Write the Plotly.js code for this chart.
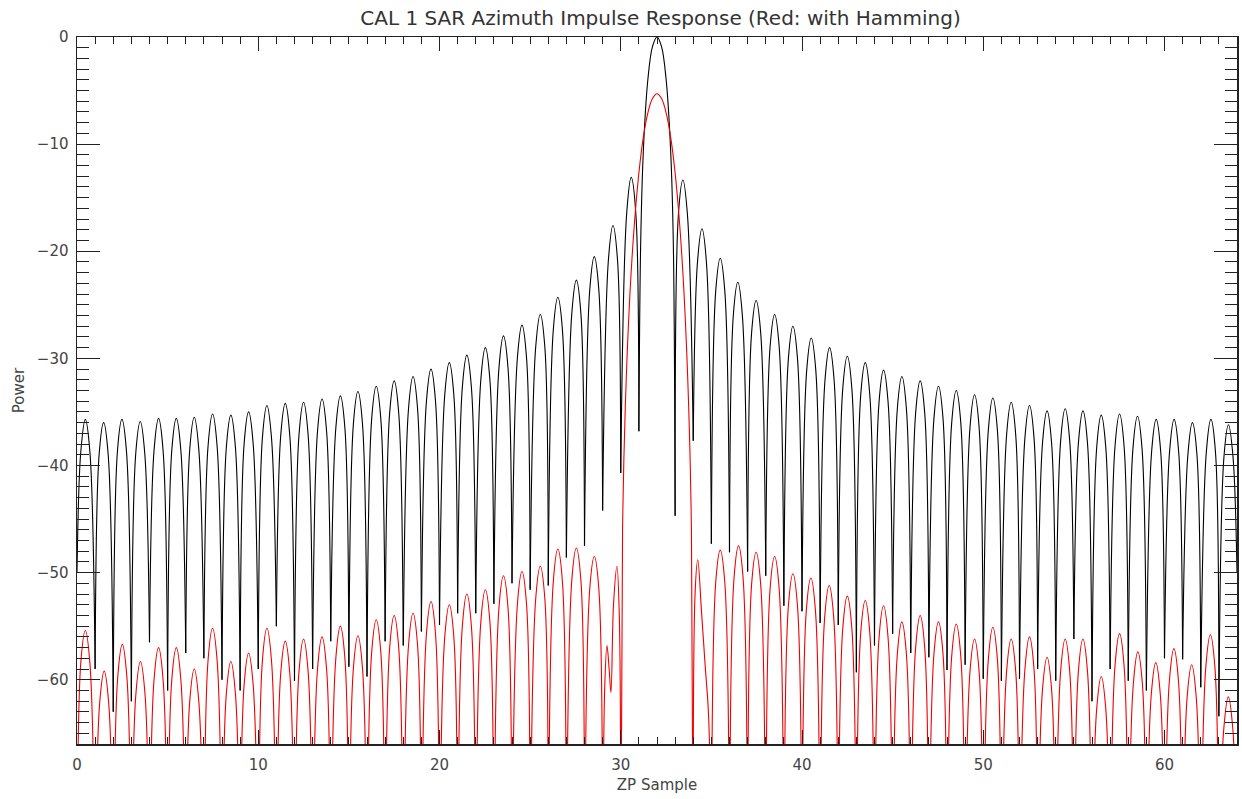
<!DOCTYPE html>
<html>
<head>
<meta charset="utf-8">
<script src="https://cdn.plot.ly/plotly-3.0.1.min.js"></script>
<style>
html,body{margin:0;padding:0;background:#fff;}
#chart{width:1242px;height:799px;}
</style>
</head>
<body>
<div id="chart"></div>
<script>
// ---------- Black curve (no weighting) ----------
// sidelobe peaks (x in ZP samples, power in dB)
const blackPeakX = [0.46,1.47,2.48,3.49,4.50,5.48,6.47,7.48,8.49,9.47,10.48,11.49,12.50,13.52,14.53,15.50,16.51,17.50,18.54,19.53,20.54,21.51,22.53,23.53,24.55,25.56,26.53,27.55,28.54,29.57,30.58,
                    33.43,34.48,35.49,36.46,37.47,38.49,39.50,40.51,41.52,42.50,43.49,44.50,45.51,46.52,47.53,48.51,49.52,50.53,51.54,52.55,53.52,54.52,55.50,56.51,57.52,58.51,59.54,60.53,61.54,62.56,63.53];
const blackPeakY = [-35.7,-36.0,-35.7,-35.9,-35.6,-35.6,-35.5,-35.2,-35.3,-35.0,-34.4,-34.2,-34.1,-33.8,-33.5,-33.1,-32.6,-32.1,-31.7,-31.0,-30.4,-29.7,-29.0,-27.9,-26.9,-25.9,-24.3,-22.7,-20.5,-17.6,-13.1,
                    -13.35,-17.9,-20.65,-22.9,-24.6,-25.9,-27.0,-28.1,-29.0,-29.8,-30.4,-31.1,-31.7,-32.1,-32.6,-33.0,-33.4,-33.7,-34.1,-34.4,-34.9,-34.7,-34.9,-35.3,-35.2,-35.4,-35.7,-35.7,-36.0,-35.7,-36.2];
// level on each lobe a quarter sample either side of its peak
const blackShoulderY = [-38.7,-39.0,-38.7,-38.9,-38.6,-38.6,-38.5,-38.2,-38.3,-38.0,-37.4,-37.2,-37.1,-36.8,-36.5,-36.1,-35.6,-35.1,-34.7,-34.0,-33.4,-32.7,-32.0,-30.9,-29.9,-28.9,-27.3,-25.8,-23.6,-20.8,-16.4,
                        -16.6,-21.1,-23.7,-26.0,-27.6,-28.9,-30.0,-31.1,-32.0,-32.8,-33.4,-34.1,-34.7,-35.1,-35.6,-36.0,-36.4,-36.7,-37.1,-37.4,-37.9,-37.7,-37.9,-38.3,-38.2,-38.4,-38.7,-38.7,-39.0,-38.7,-39.2];
// nulls between lobes (deepest sampled value)
const blackNullX = [0,1,2,3,4,5,6,7,8,9,10,11,12,13,14,15,16,17,18,19,20,21,22,23,24,25,26,27,28,29,30,31,
                    33,34,35,36,37,38,39,40,41,42,43,44,45,46,47,48,49,50,51,52,53,54,55,56,57,58,59,60,61,62,63,64];
const blackNullY = [-50,-59,-63,-62,-56.5,-61,-57.5,-58,-60,-61,-59,-55,-60.1,-59.0,-56.4,-58.8,-59.7,-56.4,-56.8,-55.5,-54.9,-53.8,-53.8,-52.9,-51.0,-51.6,-51.2,-48.6,-47.5,-44.2,-40.7,-36.8,
                    -44.7,-37.7,-47.3,-48.1,-49.9,-50.3,-53.1,-53.6,-54.7,-54.9,-59.3,-56.8,-55.7,-57.5,-57.9,-59.1,-58.6,-59.9,-60.1,-59.9,-59.0,-60.1,-56.2,-62.0,-59.0,-60.1,-61.0,-58.0,-58.1,-60.7,-63.4,-50];
// main lobe (between nulls 31 and 33)
const blackMainX = [31.1,31.25,31.5,31.75,32,32.25,32.5,32.75,32.9];
const blackMainY = [-19.2,-10.5,-3.9,-0.9,0,-0.9,-3.9,-10.5,-19.2];

// ---------- Red curve (Hamming weighted) ----------
const redPeakX = [0.46,1.50,2.50,3.50,4.50,5.48,6.47,7.48,8.49,9.47,10.48,11.49,12.50,13.52,14.53,15.50,16.51,17.50,18.54,19.53,20.54,21.51,22.53,23.53,24.55,25.56,26.53,27.55,28.54,
                  35.49,36.50,37.47,38.49,39.50,40.49,41.50,42.50,43.49,44.50,45.51,46.52,47.53,48.51,49.52,50.53,51.54,52.55,53.52,54.52,55.50,56.51,57.52,58.53,59.52,60.52,61.50,62.53,63.52];
const redPeakY = [-55.4,-59.2,-56.7,-58.3,-57.0,-57.0,-59.0,-55.2,-58.3,-57.5,-55.2,-56.4,-56.2,-56.0,-55.0,-55.9,-54.4,-54.0,-53.8,-52.7,-53.0,-52.0,-51.6,-50.3,-49.9,-49.4,-47.8,-47.7,-48.5,
                  -47.9,-47.5,-48.1,-48.5,-50.1,-50.5,-51.2,-52.2,-52.6,-53.1,-54.6,-54.0,-54.6,-54.8,-56.2,-55.1,-56.2,-56.0,-57.9,-56.2,-56.2,-59.7,-55.7,-57.4,-58.4,-57.1,-58.6,-55.8,-61.6];
const redShoulderY = [-58.4,-62.2,-59.7,-61.3,-60.0,-60.0,-62.0,-58.2,-61.3,-60.5,-58.2,-59.4,-59.2,-59.0,-58.0,-58.9,-57.4,-57.0,-56.8,-55.7,-56.0,-55.0,-54.6,-53.3,-52.9,-52.4,-50.8,-50.7,-51.5,
                      -50.9,-50.5,-51.1,-51.5,-53.1,-53.5,-54.2,-55.2,-55.6,-56.1,-57.6,-57.0,-57.6,-57.8,-59.2,-58.1,-59.2,-59.0,-60.9,-59.2,-59.2,-62.7,-58.7,-60.4,-61.4,-60.1,-61.6,-58.8,-64.6];
// red nulls all fall below the bottom of the axis
const redNullX = [0,1,2,3,4,5,6,7,8,9,10,11,12,13,14,15,16,17,18,19,20,21,22,23,24,25,26,27,28,29,30,
                  34,35,36,37,38,39,40,41,42,43,44,45,46,47,48,49,50,51,52,53,54,55,56,57,58,59,60,61,62,63,64];
const redNullY = [-80,-80,-80,-80,-80,-80,-80,-80,-80,-80,-80,-80,-80,-80,-80,-80,-80,-80,-80,-80,-80,-80,-80,-80,-80,-80,-80,-80,-80,-80,-80,
                  -80,-80,-80,-80,-80,-80,-80,-80,-80,-80,-80,-80,-80,-80,-80,-80,-80,-80,-80,-80,-80,-80,-80,-80,-80,-80,-80,-80,-80,-80,-80];
// irregular lobe between nulls 29 and 30
const redInnerLX = [29.12,29.24,29.36,29.46,29.6,29.79,29.92];
const redInnerLY = [-60.5,-56.8,-59.0,-61.2,-53.0,-49.4,-54.0];
// main lobe between nulls 30 and 34
const redMainX = [30.1,30.25,30.5,30.75,31,31.25,31.5,31.75,32,32.25,32.5,32.75,33,33.25,33.5,33.75,33.9];
const redMainY = [-46,-34.6,-24.2,-17.5,-12.7,-9.3,-7.05,-5.75,-5.3,-5.75,-7.05,-9.3,-12.7,-17.5,-24.2,-34.6,-46];
// irregular lobe between nulls 34 and 35
const redInnerRX = [34.1,34.25,34.45,34.65,34.85];
const redInnerRY = [-52.0,-48.8,-53.5,-58.5,-63.5];

// ---------- assemble lobes into one path per curve ----------
function buildCurve(nullX, nullY, peakX, peakY, shoulderY, special) {
  const xs = [], ys = [];
  let p = 0;
  for (let i = 0; i < nullX.length - 1; i++) {
    const x0 = nullX[i], x1 = nullX[i + 1];
    const sp = special[x0];
    xs.push(x0); ys.push(nullY[i]);
    if (sp) {
      xs.push(...sp[0]); ys.push(...sp[1]);
    } else {
      xs.push(peakX[p] - 0.25, peakX[p], peakX[p] + 0.25);
      ys.push(shoulderY[p], peakY[p], shoulderY[p]);
      p++;
    }
    xs.push(x1, null); ys.push(nullY[i + 1], null);
  }
  return [xs, ys];
}

const black = buildCurve(blackNullX, blackNullY, blackPeakX, blackPeakY, blackShoulderY,
  {31: [blackMainX, blackMainY]});
const red = buildCurve(redNullX, redNullY, redPeakX, redPeakY, redShoulderY,
  {29: [redInnerLX, redInnerLY], 30: [redMainX, redMainY], 34: [redInnerRX, redInnerRY]});

const traces = [
  {x: black[0], y: black[1], type: 'scatter', mode: 'lines', connectgaps: false,
   line: {color: '#000000', width: 1.1, shape: 'spline', smoothing: 1}, hoverinfo: 'skip'},
  {x: red[0], y: red[1], type: 'scatter', mode: 'lines', connectgaps: false,
   line: {color: '#f00000', width: 1.1, shape: 'spline', smoothing: 1}, hoverinfo: 'skip'}
];

const fontFam = 'DejaVu Sans, Liberation Sans, sans-serif';
const axisCol = '#222222';
const layout = {
  width: 1242, height: 799,
  margin: {l: 77, r: 5, t: 37, b: 55, pad: 0},
  paper_bgcolor: '#ffffff', plot_bgcolor: '#ffffff',
  showlegend: false,
  title: {text: 'CAL 1 SAR Azimuth Impulse Response (Red: with Hamming)',
          x: 0.503, xref: 'paper', xanchor: 'center', y: 1 - 18/799, yref: 'container', yanchor: 'middle',
          font: {family: fontFam, size: 20, color: '#333333'}},
  xaxis: {
    range: [0, 64], tickmode: 'linear', tick0: 0, dtick: 10,
    ticks: 'inside', ticklen: 14, tickwidth: 1, tickcolor: axisCol,
    minor: {dtick: 1, tick0: 0, ticks: 'inside', ticklen: 7, tickwidth: 1, tickcolor: axisCol, showgrid: false},
    showline: true, linecolor: axisCol, linewidth: 1.5, mirror: 'ticks',
    showgrid: false, zeroline: false,
    tickfont: {family: fontFam, size: 15, color: '#444444'},
    ticklabelstandoff: 6,
    title: {text: 'ZP Sample', font: {family: fontFam, size: 15, color: '#444444'}, standoff: 7}
  },
  yaxis: {
    range: [-66, 0], tickmode: 'linear', tick0: 0, dtick: 10,
    ticks: 'inside', ticklen: 23, tickwidth: 1, tickcolor: axisCol,
    minor: {dtick: 1, tick0: 0, ticks: 'inside', ticklen: 12, tickwidth: 1, tickcolor: axisCol, showgrid: false},
    showline: true, linecolor: axisCol, linewidth: 1.5, mirror: 'ticks',
    showgrid: false, zeroline: false,
    tickfont: {family: fontFam, size: 15, color: '#444444'},
    ticklabelstandoff: 4,
    title: {text: 'Power', font: {family: fontFam, size: 15, color: '#444444'}, standoff: 8}
  }
};

Plotly.newPlot('chart', traces, layout, {staticPlot: true, displayModeBar: false});
</script>
</body>
</html>
